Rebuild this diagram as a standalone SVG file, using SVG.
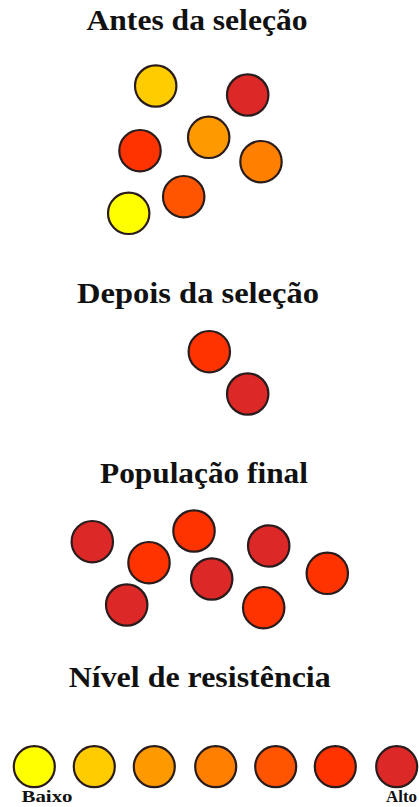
<svg xmlns="http://www.w3.org/2000/svg" width="419" height="807" viewBox="0 0 419 807">
<style>
.t{font-family:"Liberation Serif","Times New Roman",serif;font-weight:bold;fill:#111;text-anchor:middle}
.h{font-size:30px}
.s{font-size:17px}
circle{stroke:#2a1c1c;stroke-width:2.2}
.c1{fill:#FFFF00}.c2{fill:#FFCC00}.c3{fill:#FF9900}.c4{fill:#FF8000}.c5{fill:#FF5500}.c6{fill:#FF3300}.c7{fill:#DD2828}
</style>
<rect width="419" height="807" fill="#fff"/>
<g id="title-antes"><text class="t h" x="197" y="30" textLength="221" lengthAdjust="spacingAndGlyphs">Antes da seleção</text></g>
<g id="antes">
<circle class="c2" cx="155.7" cy="86" r="20.7"/>
<circle class="c7" cx="247.7" cy="95" r="20.7"/>
<circle class="c6" cx="140" cy="150.7" r="20.7"/>
<circle class="c3" cx="208.7" cy="137.3" r="20.7"/>
<circle class="c4" cx="261" cy="161.7" r="20.7"/>
<circle class="c5" cx="183.7" cy="196.7" r="20.7"/>
<circle class="c1" cx="128.7" cy="213.3" r="20.7"/>
</g>
<g id="title-depois"><text class="t h" x="198" y="303" textLength="242" lengthAdjust="spacingAndGlyphs">Depois da seleção</text></g>
<g id="depois">
<circle class="c6" cx="209.3" cy="351.7" r="20.7"/>
<circle class="c7" cx="247.7" cy="394" r="20.7"/>
</g>
<g id="title-populacao"><text class="t h" x="204" y="483" textLength="208" lengthAdjust="spacingAndGlyphs">População final</text></g>
<g id="populacao">
<circle class="c7" cx="92.3" cy="541.7" r="20.7"/>
<circle class="c6" cx="149" cy="562.7" r="20.7"/>
<circle class="c6" cx="194" cy="531" r="20.7"/>
<circle class="c7" cx="268.7" cy="546" r="20.7"/>
<circle class="c6" cx="327.3" cy="573.3" r="20.7"/>
<circle class="c7" cx="211.7" cy="579" r="20.7"/>
<circle class="c7" cx="126.7" cy="605" r="20.7"/>
<circle class="c6" cx="263.7" cy="607.7" r="20.7"/>
</g>
<g id="title-nivel"><text class="t h" x="199.7" y="687.3" textLength="262" lengthAdjust="spacingAndGlyphs">Nível de resistência</text></g>
<g id="legenda">
<circle class="c1" cx="34.3" cy="766.7" r="20.5"/>
<circle class="c2" cx="94.3" cy="766.7" r="20.5"/>
<circle class="c3" cx="154.3" cy="766.7" r="20.5"/>
<circle class="c4" cx="215.7" cy="766.7" r="20.5"/>
<circle class="c5" cx="275.7" cy="766.7" r="20.5"/>
<circle class="c6" cx="335.3" cy="766.7" r="20.5"/>
<circle class="c7" cx="396.7" cy="766.7" r="20.5"/>
<text class="t s" x="47" y="802" textLength="51" lengthAdjust="spacingAndGlyphs">Baixo</text>
<text class="t s" x="417" y="802" style="text-anchor:end" textLength="31" lengthAdjust="spacingAndGlyphs">Alto</text>
</g>
</svg>
